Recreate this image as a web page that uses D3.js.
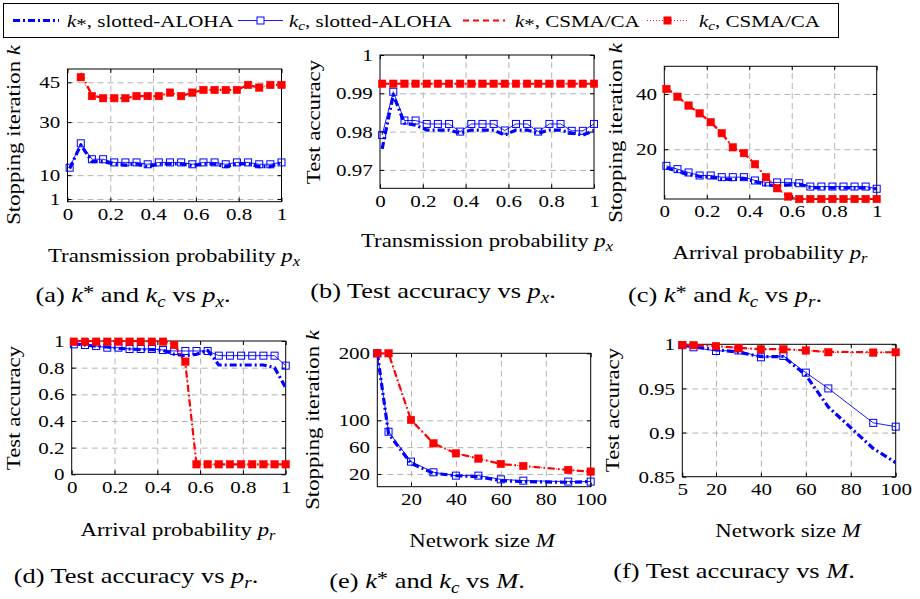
<!DOCTYPE html>
<html>
<head>
<meta charset="utf-8">
<script src="https://cdn.jsdelivr.net/npm/d3@7"></script>
<style>
  body { margin: 0; background: #fff; }
  svg { display: block; }
  text { font-family: "Liberation Serif", "Times New Roman", serif; fill: #000; }
</style>
</head>
<body>
<svg id="chart" width="920" height="599"></svg>
<script>
// Data: x grids
const pVals = [0.01, 0.0621, 0.1142, 0.1663, 0.2184, 0.2705, 0.3226, 0.3747, 0.4268, 0.4789,
               0.5311, 0.5832, 0.6353, 0.6874, 0.7395, 0.7916, 0.8437, 0.8958, 0.9479, 1.0];
const mVals = [5, 10, 20, 30, 40, 50, 60, 70, 90, 100];

// (a) stopping iteration vs p_x
const aKsAloha = [12.5, 21.4, 15.1, 15.1, 14.2, 13.8, 14.2, 13.2, 14.2, 14.2, 14.2, 13.5, 14.2, 14.2, 13.2, 14.2, 14.2, 13.2, 13.2, 14.8];
const aKcAloha = [12.8, 22.0, 16.0, 16.0, 14.8, 14.8, 14.8, 14.1, 14.8, 14.8, 14.8, 14.1, 14.8, 14.8, 14.1, 14.8, 14.8, 14.1, 14.1, 14.8];
const aKsCsma = [null, 48.5, 40.2, 39.0, 39.0, 39.0, 39.8, 39.8, 39.8, 41.1, 39.8, 41.1, 42.1, 42.1, 42.1, 42.1, 44.0, 43.0, 44.0, 44.0];
const aKcCsma = [null, 46.9, 39.8, 39.0, 39.0, 39.0, 39.8, 39.8, 39.8, 41.1, 39.8, 41.1, 42.1, 42.1, 42.1, 42.1, 44.0, 43.0, 44.0, 44.0];

// (b) test accuracy vs p_x
const bKsAloha = [0.9755, 0.9896, 0.9822, 0.9817, 0.9804, 0.9804, 0.9804, 0.9796, 0.9804, 0.9804, 0.9804, 0.9791, 0.9804, 0.9804, 0.9796, 0.9804, 0.9804, 0.9796, 0.9791, 0.9803];
const bKcAloha = [0.9791, 0.9904, 0.9829, 0.9829, 0.9820, 0.9820, 0.9820, 0.9800, 0.9820, 0.9820, 0.9820, 0.9803, 0.9820, 0.9820, 0.9800, 0.9820, 0.9820, 0.9802, 0.9802, 0.9820];
const bKsCsma = [0.9925, 0.9925, 0.9925, 0.9925, 0.9925, 0.9925, 0.9925, 0.9925, 0.9925, 0.9925, 0.9925, 0.9925, 0.9925, 0.9925, 0.9925, 0.9925, 0.9925, 0.9925, 0.9925, 0.9925];
const bKcCsma = [0.9925, 0.9925, 0.9925, 0.9925, 0.9925, 0.9925, 0.9925, 0.9925, 0.9925, 0.9925, 0.9925, 0.9925, 0.9925, 0.9925, 0.9925, 0.9925, 0.9925, 0.9925, 0.9925, 0.9925];

// (c) stopping iteration vs p_r
const cKsAloha = [13.2, 12.0, 10.8, 10.2, 9.9, 9.2, 9.0, 9.4, 8.3, 7.1, 6.8, 7.1, 7.4, 6.2, 6.0, 6.0, 6.0, 6.0, 6.0, 5.7];
const cKcAloha = [14.0, 12.8, 11.6, 10.5, 10.5, 9.9, 9.9, 9.9, 8.7, 8.0, 8.0, 8.0, 7.7, 6.5, 6.5, 6.5, 6.5, 6.5, 6.5, 5.7];
const cKsCsma = [42.3, 39.0, 35.8, 33.0, 29.8, 25.8, 20.7, 18.6, 14.6, 9.9, 5.9, 2.9, 2, 2, 2, 2, 2, 2, 2, 2];
const cKcCsma = [41.8, 39.0, 35.8, 33.0, 29.8, 25.8, 20.7, 18.6, 14.6, 9.9, 5.9, 2.9, 2, 2, 2, 2, 2, 2, 2, 2];

// (d) test accuracy vs p_r
const dKsAloha = [0.98, 0.97, 0.96, 0.955, 0.945, 0.94, 0.935, 0.935, 0.93, 0.90, 0.89, 0.90, 0.93, 0.82, 0.82, 0.82, 0.82, 0.82, 0.80, 0.65];
const dKcAloha = [0.975, 0.97, 0.962, 0.95, 0.95, 0.94, 0.94, 0.94, 0.932, 0.925, 0.925, 0.925, 0.925, 0.89, 0.89, 0.89, 0.89, 0.89, 0.89, 0.815];
const dKsCsma = [1.0, 1.0, 1.0, 1.0, 1.0, 1.0, 1.0, 1.0, 1.0, 0.98, 0.83, 0.075, 0.075, 0.075, 0.075, 0.075, 0.075, 0.075, 0.075, 0.075];
const dKcCsma = [0.995, 0.995, 0.995, 0.995, 0.995, 0.995, 0.995, 0.995, 0.995, 0.97, 0.845, 0.075, 0.075, 0.075, 0.075, 0.075, 0.075, 0.075, 0.075, 0.075];

// (e) stopping iteration vs M
const eKsAloha = [200, 80, 36, 21, 17.5, 16, 10, 8.6, 7.6, 8.6];
const eKcAloha = [200, 83, 38.4, 22.5, 17.5, 17.5, 12, 10, 8.6, 8.6];
const eKsCsma = [200, 200, 100.6, 65.7, 50.8, 42.9, 34.9, 31.9, 26, 23.5];
const eKcCsma = [200, 200, 100.6, 65.7, 50.8, 42.9, 34.9, 31.9, 26, 23.5];

// (f) test accuracy vs M
const fKsAloha = [0.999, 0.997, 0.994, 0.991, 0.986, 0.986, 0.965, 0.929, 0.882, 0.866];
const fKcAloha = [0.999, 0.9966, 0.9924, 0.993, 0.9853, 0.9868, 0.9679, 0.950, 0.911, 0.9067];
const fKsCsma = [0.9995, 0.999, 0.998, 0.996, 0.9945, 0.9945, 0.993, 0.9915, 0.991, 0.991];
const fKcCsma = [0.9992, 0.999, 0.998, 0.9955, 0.9943, 0.9943, 0.993, 0.991, 0.9906, 0.991];

// Tick values
const pTicks = [0, 0.2, 0.4, 0.6, 0.8, 1];
const aYTicks = [1, 10, 30, 45];
const bYTicks = [0.97, 0.98, 0.99, 1];
const cYTicks = [20, 40];
const dYTicks = [0, 0.2, 0.4, 0.6, 0.8, 1];
const eXTicks = [20, 40, 60, 80, 100];
const eYTicks = [20, 60, 100, 200];
const fXTicks = [5, 20, 40, 60, 80, 100];
const fYTicks = [0.85, 0.9, 0.95, 1];

// Styles
const BLUE = "#0000ff", RED = "#ff0000", GRID = "#b4b4b4";
const SX = 1.2; // widen serif glyphs toward the Computer Modern look
const FONT = "Liberation Serif";
const STYLES = [
  { color: BLUE, width: 3.2, dash: "7,3,2,3", marker: null },
  { color: BLUE, width: 0.9, dash: null, marker: "open" },
  { color: RED, width: 2.2, dash: "7,3,1.5,3", marker: null },
  { color: RED, width: 0.9, dash: "1,2", marker: "filled" }
];

// Labels (parts: plain / italic / subscript / superscript / lowered)
const L_PX = ["Transmission probability ", ["p", "i"], ["x", "sub"]];
const L_PR = ["Arrival probability ", ["p", "i"], ["r", "sub"]];
const L_M = ["Network size ", ["M", "i"]];
const L_K = ["Stopping iteration ", ["k", "i"]];
const L_ACC = ["Test accuracy"];

const panels = [
  { id: "a", box: [67.5, 69, 281.5, 201.7], xDom: [0, 1], yDom: [0, 50], xs: pVals,
    xTicks: pTicks, yTicks: aYTicks, series: [aKsAloha, aKcAloha, aKsCsma, aKcCsma],
    xlabel: L_PX, xlabelAt: [174, 262], ylabel: L_K, ylabelAt: [20, 135],
    caption: ["(a) ", ["k", "i"], ["*", "sup"], " and ", ["k", "i"], ["c", "sub"], " vs ", ["p", "i"], ["x", "sub"], "."],
    captionAt: [133, 302] },
  { id: "b", box: [380, 55, 594, 188.3], xDom: [0, 1], yDom: [0.9652, 1], xs: pVals,
    xTicks: pTicks, yTicks: bYTicks, series: [bKsAloha, bKcAloha, bKsCsma, bKcCsma],
    xlabel: L_PX, xlabelAt: [487, 247], ylabel: L_ACC, ylabelAt: [320, 122],
    caption: ["(b) Test accuracy vs ", ["p", "i"], ["x", "sub"], "."],
    captionAt: [433, 298] },
  { id: "c", box: [664.3, 66.3, 876.7, 199], xDom: [0, 1], yDom: [2, 50], xs: pVals,
    xTicks: pTicks, yTicks: cYTicks, series: [cKsAloha, cKcAloha, cKsCsma, cKcCsma],
    xlabel: L_PR, xlabelAt: [770, 259], ylabel: L_K, ylabelAt: [622, 133],
    caption: ["(c) ", ["k", "i"], ["*", "sup"], " and ", ["k", "i"], ["c", "sub"], " vs ", ["p", "i"], ["r", "sub"], "."],
    captionAt: [725, 302] },
  { id: "d", box: [71.7, 341, 285.7, 474.3], xDom: [0, 1], yDom: [0, 1], xs: pVals,
    xTicks: pTicks, yTicks: dYTicks, series: [dKsAloha, dKcAloha, dKsCsma, dKcCsma],
    xlabel: L_PR, xlabelAt: [178, 536], ylabel: L_ACC, ylabelAt: [20, 408],
    caption: ["(d) Test accuracy vs ", ["p", "i"], ["r", "sub"], "."],
    captionAt: [136, 583] },
  { id: "e", box: [377.3, 353.3, 590.7, 486.7], xDom: [5, 100], yDom: [1, 200], xs: mVals,
    xTicks: eXTicks, yTicks: eYTicks, series: [eKsAloha, eKcAloha, eKsCsma, eKcCsma],
    xlabel: L_M, xlabelAt: [482, 547], ylabel: L_K, ylabelAt: [319, 420],
    caption: ["(e) ", ["k", "i"], ["*", "sup"], " and ", ["k", "i"], ["c", "sub"], " vs ", ["M", "i"], "."],
    captionAt: [427, 588] },
  { id: "f", box: [682.3, 344.3, 895.7, 476.7], xDom: [5, 100], yDom: [0.85, 1], xs: mVals,
    xTicks: fXTicks, yTicks: fYTicks, series: [fKsAloha, fKcAloha, fKsCsma, fKcCsma],
    xlabel: L_M, xlabelAt: [788, 537], ylabel: L_ACC, ylabelAt: [619, 410],
    caption: ["(f) Test accuracy vs ", ["M", "i"], "."],
    captionAt: [734, 578] }
];

const svg = d3.select("#chart");
const fmt = d3.format("~g");

// Text with italic / sub / sup parts, widened horizontally by SX
function mathText(parent, parts, x, y, size, opts = {}) {
  const t = parent.append("text")
    .attr("transform", `translate(${x},${y})${opts.rotate ? " rotate(-90)" : ""} scale(${SX},1)`)
    .attr("font-size", size)
    .attr("text-anchor", opts.anchor || "middle");
  let shift = 0;
  parts.forEach(p => {
    const [s, st] = typeof p === "string" ? [p] : p;
    const span = t.append("tspan").text(s);
    let target = 0;
    if (st === "i") span.attr("font-style", "italic");
    if (st === "sub") {
      span.attr("font-style", "italic").attr("font-size", size * 0.72);
      target = size * 0.22;
    }
    if (st === "sup") {
      span.attr("font-size", size * 0.85);
      target = -size * 0.12;
    }
    if (st === "low") {
      target = size * 0.2;
    }
    if (target !== shift) { span.attr("dy", target - shift); shift = target; }
  });
  return t;
}

function styleAxis(g) {
  g.attr("font-family", FONT).attr("font-size", 17.5);
  g.select(".domain").remove();
  g.selectAll("line").attr("stroke", "#000");
  g.selectAll("text").attr("transform", `scale(${SX},1)`);
}

function drawPanel(p) {
  const [x0, y0, x1, y1] = p.box;
  const x = d3.scaleLinear().domain(p.xDom).range([x0, x1]);
  const y = d3.scaleLinear().domain(p.yDom).range([y1, y0]);
  const g = svg.append("g").attr("class", `panel-${p.id}`);

  // Grid
  const inX = p.xTicks.filter(v => x(v) > x0 + 1 && x(v) < x1 - 1);
  const inY = p.yTicks.filter(v => y(v) > y0 + 1 && y(v) < y1 - 1);
  const gridX = g.append("g").attr("transform", `translate(0,${y1})`)
    .call(d3.axisBottom(x).tickValues(inX).tickSize(-(y1 - y0)).tickFormat(""));
  const gridY = g.append("g").attr("transform", `translate(${x0},0)`)
    .call(d3.axisLeft(y).tickValues(inY).tickSize(-(x1 - x0)).tickFormat(""));
  [gridX, gridY].forEach(gr => {
    gr.select(".domain").remove();
    gr.selectAll("line").attr("stroke", GRID).attr("stroke-width", 1).attr("stroke-dasharray", "6,4");
  });

  // Axes with inward ticks on all sides
  g.append("g").attr("transform", `translate(0,${y1})`)
    .call(d3.axisBottom(x).tickValues(p.xTicks).tickSize(-4).tickPadding(6).tickFormat(fmt))
    .call(styleAxis);
  g.append("g").attr("transform", `translate(0,${y0})`)
    .call(d3.axisTop(x).tickValues(p.xTicks).tickSize(-4).tickFormat(""))
    .call(styleAxis);
  g.append("g").attr("transform", `translate(${x0},0)`)
    .call(d3.axisLeft(y).tickValues(p.yTicks).tickSize(-4).tickPadding(6).tickFormat(fmt))
    .call(styleAxis);
  g.append("g").attr("transform", `translate(${x1},0)`)
    .call(d3.axisRight(y).tickValues(p.yTicks).tickSize(-4).tickFormat(""))
    .call(styleAxis);

  g.append("rect")
    .attr("x", x0).attr("y", y0).attr("width", x1 - x0).attr("height", y1 - y0)
    .attr("fill", "none").attr("stroke", "#000").attr("stroke-width", 1);

  // Series
  const clipId = `clip-${p.id}`;
  g.append("clipPath").attr("id", clipId)
    .append("rect").attr("x", x0).attr("y", y0 - 1).attr("width", x1 - x0).attr("height", y1 - y0 + 2);

  p.series.forEach((vals, si) => {
    const st = STYLES[si];
    const pts = vals.map((v, i) => ({ x: p.xs[i], y: v }));
    const line = d3.line().defined(d => d.y != null).x(d => x(d.x)).y(d => y(d.y));
    g.append("path")
      .datum(pts)
      .attr("clip-path", `url(#${clipId})`)
      .attr("d", line)
      .attr("fill", "none")
      .attr("stroke", st.color)
      .attr("stroke-width", st.width)
      .attr("stroke-dasharray", st.dash)
      .attr("stroke-linejoin", "round");
    if (st.marker) {
      const s = st.marker === "open" ? 7 : 7.5;
      g.append("g").selectAll("rect")
        .data(pts.filter(d => d.y != null))
        .join("rect")
        .attr("x", d => x(d.x) - s / 2)
        .attr("y", d => y(d.y) - s / 2)
        .attr("width", s).attr("height", s)
        .attr("fill", st.marker === "open" ? "none" : st.color)
        .attr("stroke", st.color)
        .attr("stroke-width", st.marker === "open" ? 1 : 0.5);
    }
  });

  // Labels
  mathText(g, p.xlabel, p.xlabelAt[0], p.xlabelAt[1], 19);
  mathText(g, p.ylabel, p.ylabelAt[0], p.ylabelAt[1], 19, { rotate: true });
  mathText(g, p.caption, p.captionAt[0], p.captionAt[1], 22);
}

panels.forEach(drawPanel);

// Legend
const legend = svg.append("g").attr("class", "legend");
legend.append("rect")
  .attr("x", 3.5).attr("y", 3.5).attr("width", 835).attr("height", 34)
  .attr("fill", "#fff").attr("stroke", "#000").attr("stroke-width", 1);

const legendItems = [
  { style: 0, dash: "7,3,2,3", x: [13, 59], tx: 67, label: [["k", "i"], ["*", "low"], ", slotted-ALOHA"] },
  { style: 1, dash: null, x: [238, 283], tx: 289, label: [["k", "i"], ["c", "sub"], ", slotted-ALOHA"] },
  { style: 2, dash: "6,4", x: [463, 505], tx: 515, label: [["k", "i"], ["*", "low"], ", CSMA/CA"] },
  { style: 3, dash: "1,2", x: [647, 688], tx: 699, label: [["k", "i"], ["c", "sub"], ", CSMA/CA"] }
];
const ly = 20.5;
legendItems.forEach(it => {
  const st = STYLES[it.style];
  legend.append("line")
    .attr("x1", it.x[0]).attr("x2", it.x[1]).attr("y1", ly).attr("y2", ly)
    .attr("stroke", st.color).attr("stroke-width", st.width)
    .attr("stroke-dasharray", it.dash);
  if (st.marker) {
    const s = 7;
    legend.append("rect")
      .attr("x", (it.x[0] + it.x[1]) / 2 - s / 2).attr("y", ly - s / 2)
      .attr("width", s).attr("height", s)
      .attr("fill", st.marker === "open" ? "#fff" : st.color)
      .attr("stroke", st.color);
  }
  mathText(legend, it.label, it.tx, 26.5, 17.5, { anchor: "start" });
});
</script>
</body>
</html>
